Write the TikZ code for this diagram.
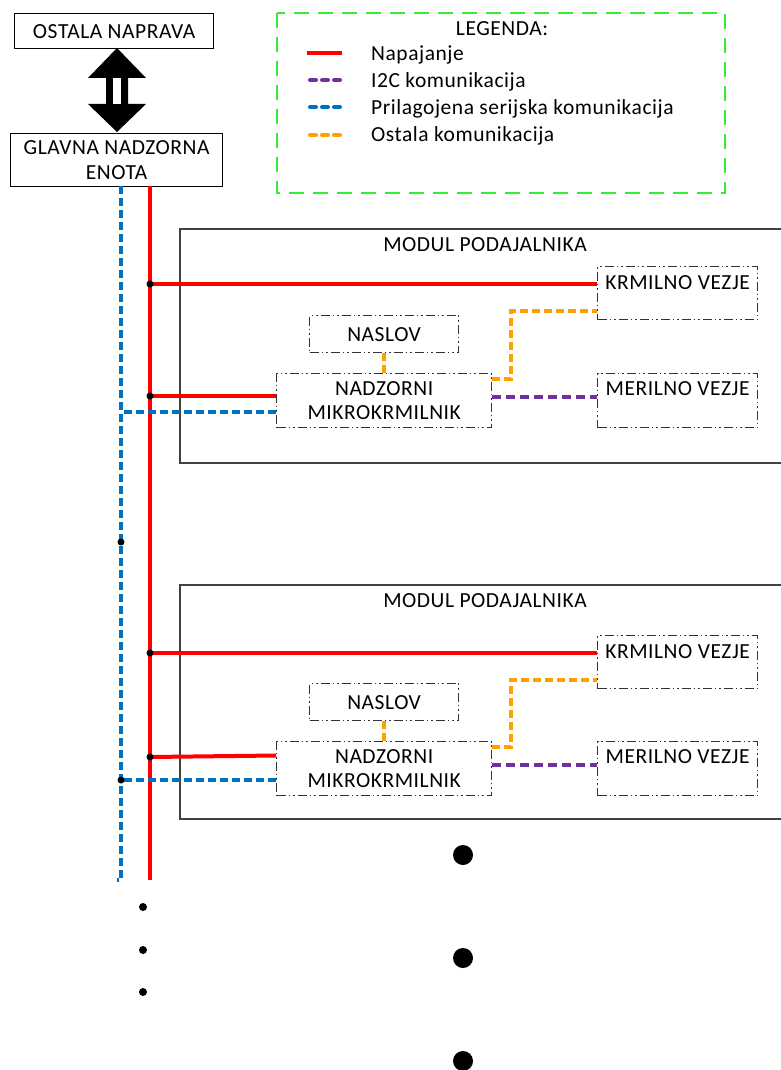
\documentclass[tikz,border=0pt]{standalone}
\usepackage{fontspec}
\setmainfont[LetterSpace=2.5]{Carlito}
\usetikzlibrary{calc}
\definecolor{cred}{HTML}{FF0000}
\definecolor{cblue}{HTML}{0070C0}
\definecolor{cpurple}{HTML}{7030A0}
\definecolor{corange}{HTML}{FFA000}
\definecolor{cgreen}{HTML}{33EE33}
\begin{document}
\begin{tikzpicture}[x=1pt,y=-1pt,
  every node/.style={font=\fontsize{21.5}{24.5}\selectfont, inner sep=0pt, text=black},
  plainbox/.style={draw=black, line width=1.2pt, rectangle, anchor=north west},
  ddbox/.style={draw=black!80, line width=1.3pt, rectangle, anchor=north west,
    dash pattern=on 9pt off 3pt on 1.5pt off 3pt on 1.5pt off 3pt},
  modbox/.style={draw=black!75, line width=1.3pt},
  power/.style={draw=cred, line width=4pt},
  serial/.style={draw=cblue, line width=4pt, dash pattern=on 8pt off 4pt},
  i2c/.style={draw=cpurple, line width=4pt, dash pattern=on 9pt off 5pt},
  other/.style={draw=corange, line width=4pt, dash pattern=on 8pt off 4pt},
  legline/.style={line width=4pt, line cap=round, dash pattern=on 6pt off 6pt},
  jdot/.style={fill=black},
]
\useasboundingbox (0,0) rectangle (781,1070);

% top boxes
\node[plainbox, minimum width=199pt, minimum height=35pt] (ost) at (14,13) {};
\node at (ost.center) {OSTALA NAPRAVA};
\node[plainbox, minimum width=212pt, minimum height=53pt, align=center] (gl) at (10,133) {GLAVNA NADZORNA\\ENOTA};

% double arrow
\fill[black] (117,48) -- (146,78) -- (128,78) -- (128,104) -- (146,104) -- (117,132)
  -- (88,104) -- (106,104) -- (106,78) -- (88,78) -- cycle;
\fill[white] (113,78) rectangle (121,104);

% legend
\draw[draw=cgreen, line width=1.3pt, dash pattern=on 15pt off 9pt] (277,13) rectangle (725,193);
\node (legt) at (502,29) {LEGENDA:};
\draw[power] (307,53) -- (342,53);
\draw[legline, cpurple] (310,80) -- (340,80);
\draw[legline, cblue] (310,107) -- (340,107);
\draw[legline, corange] (310,135) -- (340,135);
\node[anchor=west] (l1) at (371,55) {Napajanje};
\node[anchor=west] (l2) at (371,82) {I2C komunikacija};
\node[anchor=west] (l3) at (371,109) {Prilagojena serijska komunikacija};
\node[anchor=west] (l4) at (371,136) {Ostala komunikacija};

% bus lines
\coordinate (rtop) at (150,186);
\coordinate (rbot) at (150,880);
\coordinate (btop) at (121,186);
\coordinate (bbot) at (121,880);
\coordinate (bend) at (117,880);
\draw[power] (rtop) -- (rbot);
\draw[serial] (btop) -- (bbot) -- (bend);

% ===== module 1 =====
\draw[modbox] (781,229) -- (180,229) -- (180,463) -- (781,463);
\node (mt1) at (485,245) {MODUL PODAJALNIKA};
\node[ddbox, minimum width=160pt, minimum height=53pt,
  label={[anchor=center, yshift=-17pt]north:KRMILNO VEZJE}] (krm1) at (597,266) {};
\node[ddbox, minimum width=149pt, minimum height=37pt] (nas1) at (309,315) {};
\node at (nas1.center) {NASLOV};
\node[ddbox, minimum width=215pt, minimum height=54pt, align=center] (nad1) at (276,373) {NADZORNI\\MIKROKRMILNIK};
\node[ddbox, minimum width=160pt, minimum height=54pt,
  label={[anchor=center, yshift=-16pt]north:MERILNO VEZJE}] (mer1) at (597,373) {};
\coordinate (ja1) at (150,284);
\coordinate (jb1) at (150,396);
\coordinate (jc1) at (121,412);
\coordinate (oa1) at (511,379);
\coordinate (ob1) at (511,311);
\coordinate (p1) at (0,397);
\draw[power] (ja1) -- (ja1 -| krm1.west);
\draw[power] (jb1) -- (jb1 -| nad1.west);
\draw[serial] (jc1 -| nad1.west) -- (jc1);
\draw[other] (nas1.south) -- (nad1.north);
\draw[other] (oa1 -| nad1.east) -- (oa1) -- (ob1) -- (ob1 -| krm1.west);
\draw[i2c] (p1 -| nad1.east) -- (p1 -| mer1.west);
\fill[jdot] (ja1) circle (3.5pt);
\fill[jdot] (jb1) circle (3.5pt);

% ===== module 2 =====
\draw[modbox] (781,585) -- (180,585) -- (180,819) -- (781,819);
\node (mt2) at (485,601) {MODUL PODAJALNIKA};
\node[ddbox, minimum width=160pt, minimum height=53pt,
  label={[anchor=center, yshift=-17pt]north:KRMILNO VEZJE}] (krm2) at (597,635) {};
\node[ddbox, minimum width=149pt, minimum height=37pt] (nas2) at (309,683) {};
\node at (nas2.center) {NASLOV};
\node[ddbox, minimum width=215pt, minimum height=54pt, align=center] (nad2) at (276,741) {NADZORNI\\MIKROKRMILNIK};
\node[ddbox, minimum width=160pt, minimum height=54pt,
  label={[anchor=center, yshift=-16pt]north:MERILNO VEZJE}] (mer2) at (597,741) {};
\coordinate (ja2) at (150,653);
\coordinate (jb2) at (150,757);
\coordinate (jc2) at (121,780);
\coordinate (oa2) at (511,747);
\coordinate (ob2) at (511,680);
\coordinate (p2) at (0,765);
\draw[power] (ja2) -- (ja2 -| krm2.west);
\draw[power] (jb2) -- ($(nad2.west |- jb2)+(0,-1.5)$);
\draw[serial] (jc2 -| nad2.west) -- (jc2);
\draw[other] (nas2.south) -- (nad2.north);
\draw[other] (oa2 -| nad2.east) -- (oa2) -- (ob2) -- (ob2 -| krm2.west);
\draw[i2c] (p2 -| nad2.east) -- (p2 -| mer2.west);
\fill[jdot] (ja2) circle (3.5pt);
\fill[jdot] (jb2) circle (3.5pt);
\fill[jdot] (jc2) circle (3.5pt);
\fill[jdot] (121,542) circle (3.5pt);

% continuation dots
\fill (463,855) circle (10pt);
\fill (463,958) circle (10pt);
\fill (463,1061) circle (10pt);
\fill (143,907) circle (4pt);
\fill (143,950) circle (4pt);
\fill (143,992) circle (4pt);
\end{tikzpicture}
\end{document}
